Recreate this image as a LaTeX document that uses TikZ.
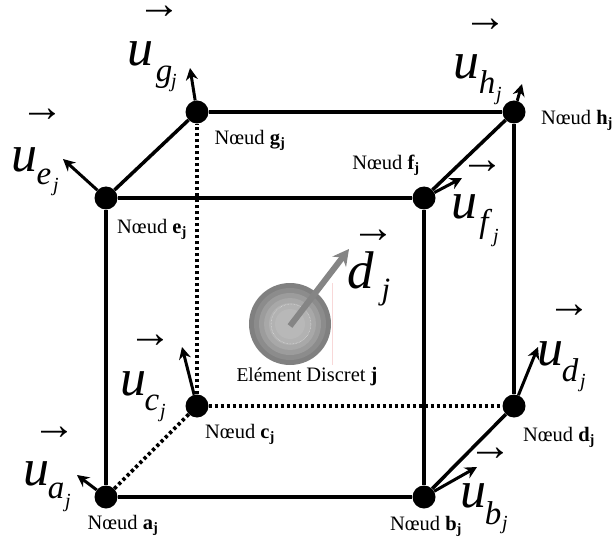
\documentclass[tikz,border=0pt]{standalone}
\usepackage{fontspec}
\setmainfont{Liberation Serif}
\usetikzlibrary{arrows.meta,positioning}
\definecolor{vecg}{HTML}{858585}
\definecolor{pinkl}{HTML}{F8D8D8}
\tikzset{
  nd/.style={circle,fill=black,inner sep=0pt,minimum size=23pt},
  edge/.style={line width=3.5pt,black},
  hid/.style={line width=3.6pt,black,dash pattern=on 3.2pt off 2.8pt},
  ar/.style={-{Stealth[length=12pt,width=12pt]},line width=3pt,black},
  lab/.style={font=\fontsize{20.5}{23}\selectfont,inner sep=0pt},
  uu/.style={font=\fontsize{52}{52}\selectfont\itshape,inner sep=0pt},
  sub/.style={font=\fontsize{33}{33}\selectfont\itshape,inner sep=0pt},
  subj/.style={font=\fontsize{20}{20}\selectfont\itshape,inner sep=0pt},
  over/.style={font=\fontsize{44}{44}\selectfont,inner sep=0pt,yshift=-2pt}
}
\newcommand{\vecu}[9]{%
  \node[uu] (u#1) at (#2,#3) {u};
  \node[sub] (s#1) at (#4,#5) {#1};
  \node[subj] (j#1) at (#6,#7) {j};
  \node[over] (o#1) at (#8,#9) {→};
}
\begin{document}
\begin{tikzpicture}[x=1pt,y=-1pt]
\useasboundingbox (0,0) rectangle (615,545);
% sphere
\foreach \r/\g in {41/50,36/45,31/39,26/34,21/30,15/28}
  \fill[black!\g] (290,324) circle (\r);
\draw[white!80!gray,densely dotted,line width=0.5pt] (291,324) circle (20);
\draw[pinkl,line width=0.6pt] (332,283)--(332,365);
% nodes
\node[nd] (a) at (106,497) {};
\node[nd] (b) at (424,497) {};
\node[nd] (c) at (197,406) {};
\node[nd] (d) at (514,406) {};
\node[nd] (e) at (106,198) {};
\node[nd] (f) at (424,198) {};
\node[nd] (g) at (197,112) {};
\node[nd] (h) at (514,112) {};
% cube
\draw[edge] (a)--(b);
\draw[edge] (a)--(e);
\draw[edge] (b)--(f);
\draw[edge] (b)--(d);
\draw[edge] (d)--(h);
\draw[edge] (e)--(f);
\draw[edge] (e)--(g);
\draw[edge] (f)--(h);
\draw[edge] (g)--(h);
\draw[hid] (a)--(c);
\draw[hid] (c)--(d);
\draw[hid] (c)--(g);
% node vectors
\coordinate (ta) at (77,475);
\coordinate (tb) at (477,467);
\coordinate (tc) at (182,347);
\coordinate (td) at (538,347);
\coordinate (te) at (63,159);
\coordinate (tf) at (462,178);
\coordinate (tg) at (190,68);
\coordinate (th) at (522,84);
\draw[ar] (a)--(ta);
\draw[ar] (b)--(tb);
\draw[ar] (c)--(tc);
\draw[ar] (d)--(td);
\draw[ar] (e)--(te);
\draw[ar] (f)--(tf);
\draw[ar] (g)--(tg);
\draw[ar] (h)--(th);
% labels
\vecu{a}{36}{474}{56}{491}{68}{503}{54}{431}
\vecu{b}{473}{496}{493}{513}{505}{525}{490}{452}
\vecu{c}{133}{384}{152}{403}{163}{413}{150}{339}
\vecu{d}{550}{354}{570}{370}{583}{383}{569}{309}
\vecu{e}{25}{160}{44}{177}{56}{187}{42}{113}
\vecu{f}{464}{207}{484}{224}{496}{238}{482}{165}
\vecu{g}{140}{54}{164}{77}{174}{83}{159}{10}
\vecu{h}{466}{67}{487}{82}{499}{96}{485}{23}
\node[lab] (la) at (123,525) {Nœud \textbf{a\textsubscript{j}}};
\node[lab] (lb) at (426,526) {Nœud \textbf{b\textsubscript{j}}};
\node[lab] (lc) at (240,434) {Nœud \textbf{c\textsubscript{j}}};
\node[lab] (ld) at (559,437) {Nœud \textbf{d\textsubscript{j}}};
\node[lab] (le) at (152,229) {Nœud \textbf{e\textsubscript{j}}};
\node[lab] (lf) at (386,165) {Nœud \textbf{f\textsubscript{j}}};
\node[lab] (lg) at (250,140) {Nœud \textbf{g\textsubscript{j}}};
\node[lab] (lh) at (577,120) {Nœud \textbf{h\textsubscript{j}}};
\node[lab] (el) at (307,377) {\fontsize{19.5}{22}\selectfont Elément \fontsize{20.5}{22}\selectfont Discret \textbf{j}};
% displacement
\coordinate (ctr) at (290,326);
\coordinate (dtip) at (349,249);
\draw[-{Stealth[length=16pt,width=17pt]},line width=6pt,vecg] (ctr)--(dtip);
\node[over] (od) at (373,234) {→};
\node[font=\fontsize{53}{53}\selectfont\itshape,inner sep=0pt] (dd) at (361,270) {d};
\node[font=\fontsize{31}{31}\selectfont\itshape,inner sep=0pt] (dj) at (386,293) {j};
\end{tikzpicture}
\end{document}
